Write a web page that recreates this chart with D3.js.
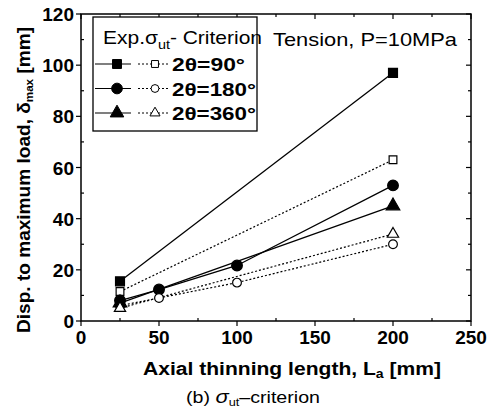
<!DOCTYPE html>
<html>
<head>
<meta charset="utf-8">
<script src="https://cdn.jsdelivr.net/npm/d3@7"></script>
<style>
  body { margin: 0; background: #fff; }
  svg { display: block; font-family: "Liberation Sans", Arial, sans-serif; }
</style>
</head>
<body>
<svg id="chart" width="500" height="409"></svg>
<script>
// data
const xTicks = [0, 50, 100, 150, 200, 250];
const yTicks = [0, 20, 40, 60, 80, 100, 120];
const sq90 = [[25, 15.5], [200, 97]];
const sq90open = [[25, 11.5], [200, 63]];
const ci180 = [[25, 8], [50, 12.3], [100, 21.7], [200, 53]];
const ci180open = [[25, 6], [50, 9], [100, 15], [200, 30]];
const tr360 = [[25, 7], [200, 45]];
const tr360open = [[25, 5], [200, 34]];
const legendRows = ['90°', '180°', '360°'];

const svg = d3.select('#chart');
const x = d3.scaleLinear().domain([0, 250]).range([81, 471]);
const y = d3.scaleLinear().domain([0, 120]).range([321, 14]);

// frame
svg.append('rect')
    .attr('x', 81).attr('y', 14)
    .attr('width', 390).attr('height', 307)
    .attr('fill', 'none').attr('stroke', '#000').attr('stroke-width', 1.5);

// ticks
const g = svg.append('g').attr('stroke', '#000').attr('stroke-width', 1.2);
xTicks.forEach(t => {
    g.append('line').attr('x1', x(t)).attr('x2', x(t)).attr('y1', 321).attr('y2', 326);
    g.append('line').attr('x1', x(t)).attr('x2', x(t)).attr('y1', 14).attr('y2', 19);
});
d3.range(25, 250, 50).forEach(t => {
    g.append('line').attr('x1', x(t)).attr('x2', x(t)).attr('y1', 321).attr('y2', 318);
    g.append('line').attr('x1', x(t)).attr('x2', x(t)).attr('y1', 14).attr('y2', 17);
});
yTicks.forEach(t => {
    g.append('line').attr('x1', 76).attr('x2', 81).attr('y1', y(t)).attr('y2', y(t));
    g.append('line').attr('x1', 466).attr('x2', 471).attr('y1', y(t)).attr('y2', y(t));
});
d3.range(10, 120, 20).forEach(t => {
    g.append('line').attr('x1', 81).attr('x2', 84).attr('y1', y(t)).attr('y2', y(t));
    g.append('line').attr('x1', 468).attr('x2', 471).attr('y1', y(t)).attr('y2', y(t));
});

// tick labels
svg.selectAll('.xt').data(xTicks).enter().append('text')
    .attr('x', d => x(d)).attr('y', 344)
    .attr('text-anchor', 'middle')
    .attr('font-size', 19).attr('font-weight', 'bold')
    .text(d => d);
svg.selectAll('.yt').data(yTicks).enter().append('text')
    .attr('x', 74).attr('y', d => y(d) + 7)
    .attr('text-anchor', 'end')
    .attr('font-size', 19).attr('font-weight', 'bold')
    .text(d => d);

// axis titles
const xl = svg.append('text')
    .attr('x', 143).attr('y', 375)
    .attr('font-size', 18).attr('font-weight', 'bold')
    .attr('textLength', 298).attr('lengthAdjust', 'spacingAndGlyphs');
xl.append('tspan').text('Axial thinning length, L');
xl.append('tspan').attr('font-size', 12).attr('dy', 3).text('a');
xl.append('tspan').attr('dy', -3).text(' [mm]');

const yl = svg.append('text')
    .attr('transform', 'translate(30,333) rotate(-90)')
    .attr('font-size', 18).attr('font-weight', 'bold')
    .attr('textLength', 306).attr('lengthAdjust', 'spacingAndGlyphs');
yl.append('tspan').text('Disp. to maximum load, δ');
yl.append('tspan').attr('font-size', 11).attr('dy', 3).text('max');
yl.append('tspan').attr('dy', -3).text(' [mm]');

const cap = svg.append('text')
    .attr('x', 186).attr('y', 403)
    .attr('font-size', 17)
    .attr('textLength', 134).attr('lengthAdjust', 'spacingAndGlyphs');
cap.append('tspan').text('(b)  ');
cap.append('tspan').attr('font-style', 'italic').attr('font-size', 19).text('σ');
cap.append('tspan').attr('font-size', 11).attr('dy', 3).text('ut');
cap.append('tspan').attr('dy', -3).text('–criterion');

// lines
const line = d3.line().x(d => x(d[0])).y(d => y(d[1]));
const series = [
    { data: sq90, shape: d3.symbolSquare, fill: '#000', dash: null, size: 80 },
    { data: sq90open, shape: d3.symbolSquare, fill: '#fff', dash: '2,2', size: 60 },
    { data: ci180, shape: d3.symbolCircle, fill: '#000', dash: null, size: 90 },
    { data: ci180open, shape: d3.symbolCircle, fill: '#fff', dash: '2,2', size: 60 },
    { data: tr360, shape: d3.symbolTriangle, fill: '#000', dash: null, size: 80 },
    { data: tr360open, shape: d3.symbolTriangle, fill: '#fff', dash: '2,2', size: 55 }
];
series.forEach(s => {
    svg.append('path')
        .attr('d', line(s.data))
        .attr('fill', 'none').attr('stroke', '#000')
        .attr('stroke-width', s.dash ? 1.2 : 1.3)
        .attr('stroke-dasharray', s.dash);
});
series.forEach(s => {
    svg.selectAll(null).data(s.data).enter().append('path')
        .attr('d', d3.symbol().type(s.shape).size(s.size))
        .attr('transform', d => `translate(${x(d[0])},${y(d[1])})`)
        .attr('fill', s.fill).attr('stroke', '#000').attr('stroke-width', 1.2);
});

// legend
svg.append('rect')
    .attr('x', 93).attr('y', 17)
    .attr('width', 164).attr('height', 114)
    .attr('fill', '#fff').attr('stroke', '#000').attr('stroke-width', 1.3);
const lt = svg.append('text')
    .attr('x', 103).attr('y', 44)
    .attr('font-size', 19)
    .attr('textLength', 159).attr('lengthAdjust', 'spacingAndGlyphs');
lt.append('tspan').text('Exp.σ');
lt.append('tspan').attr('font-size', 13).attr('dy', 5).text('ut');
lt.append('tspan').attr('dy', -5).text('- Criterion');

const rowWidths = [73, 84, 84];
legendRows.forEach((r, i) => {
    const yy = 64 + i * 24.5;
    const filled = series[i * 2], open = series[i * 2 + 1];
    svg.append('line').attr('x1', 95).attr('x2', 131).attr('y1', yy).attr('y2', yy)
        .attr('stroke', '#000').attr('stroke-width', 1.2);
    svg.append('line').attr('x1', 138).attr('x2', 168).attr('y1', yy).attr('y2', yy)
        .attr('stroke', '#000').attr('stroke-width', 1).attr('stroke-dasharray', '2,2');
    svg.append('path')
        .attr('d', d3.symbol().type(filled.shape).size(filled.size))
        .attr('transform', `translate(117,${yy})`)
        .attr('fill', '#000').attr('stroke', '#000');
    svg.append('path')
        .attr('d', d3.symbol().type(open.shape).size(open.size * 0.8))
        .attr('transform', `translate(155,${yy})`)
        .attr('fill', '#fff').attr('stroke', '#000');
    svg.append('text')
        .attr('x', 172).attr('y', yy + 7)
        .attr('font-size', 19).attr('font-weight', 'bold')
        .attr('textLength', rowWidths[i]).attr('lengthAdjust', 'spacingAndGlyphs')
        .text('2θ=' + r);
});

svg.append('text')
    .attr('x', 273).attr('y', 46)
    .attr('font-size', 19)
    .attr('textLength', 184).attr('lengthAdjust', 'spacingAndGlyphs')
    .text('Tension, P=10MPa');
</script>
</body>
</html>
